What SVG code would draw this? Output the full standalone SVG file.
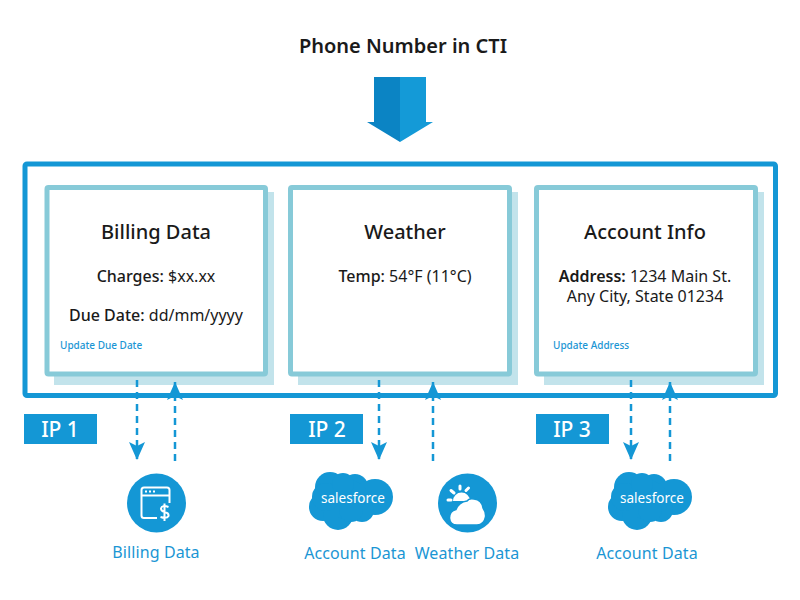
<svg xmlns="http://www.w3.org/2000/svg" width="800" height="600" viewBox="0 0 800 600">
<style>
text{font-family:"Noto Sans","Open Sans","Liberation Sans",sans-serif;fill:#1a1a1a}
.t{font-size:20px;font-weight:600;text-anchor:middle}
.h{font-size:20px;font-weight:500;text-anchor:middle}
.b{font-size:16px;text-anchor:middle}
.m{font-weight:500}
.bb{font-weight:600}
.l{font-size:10px;fill:#1b96d4;font-weight:500}
.c{font-size:16px;fill:#1b96d4;text-anchor:middle;letter-spacing:.1px}
.ip{font-size:21px;fill:#fff;text-anchor:middle;font-weight:500}
.sf{font-size:13.500px;fill:#fff;text-anchor:middle}
.shadow{fill:#c2e3eb}
.card{fill:#fff;stroke:#87cad8;stroke-width:5}
.d{stroke:#1497d5;stroke-width:2.500;stroke-dasharray:7 5;fill:none}
.blue{fill:#1497d5}
.w{fill:none;stroke:#fff;stroke-width:2}
</style>
<defs>
<marker id="ah" markerUnits="userSpaceOnUse" markerWidth="20" markerHeight="18" refX="18" refY="8" orient="auto" viewBox="0 0 20 16"><path d="M18 8 L0 0 L4 8 L0 16Z" fill="#1497d5"/></marker>
<g id="cloud">
<circle cx="21" cy="15" r="15"/><circle cx="46" cy="15" r="13"/><circle cx="66" cy="25" r="18"/><circle cx="14" cy="35" r="14"/><circle cx="29" cy="43" r="15"/><circle cx="53" cy="38" r="12"/><circle cx="40" cy="28" r="20"/><circle cx="17" cy="25" r="14"/><circle cx="42" cy="38" r="12"/><circle cx="34" cy="12" r="11"/>
</g>
</defs>
<text id="title" class="t" x="403" y="53">Phone Number in CTI</text>
<g id="big-arrow">
<path d="M400 77H374V122H367L400 142Z" fill="#0b84c4"/>
<path d="M400 77H426V122H433L400 142Z" fill="#149ad7"/>
</g>
<rect id="outer" x="25" y="164" width="750.500" height="231.500" rx="2" fill="#fff" stroke="#1497d5" stroke-width="5"/>
<g id="billing-card">
<rect class="shadow" x="54" y="192" width="220" height="193"/>
<rect class="card" x="47" y="187.500" width="218.500" height="186.500" rx="1.500"/>
<text class="h" x="156" y="239">Billing Data</text>
<text class="b" x="156" y="282"><tspan class="m">Charges:</tspan> $xx.xx</text>
<text class="b" x="156" y="321"><tspan class="m">Due Date:</tspan> dd/mm/yyyy</text>
<text class="l" x="60" y="349">Update Due Date</text>
</g>
<g id="weather-card">
<rect class="shadow" x="298" y="192" width="220" height="193"/>
<rect class="card" x="290.500" y="187.500" width="219" height="186.500" rx="1.500"/>
<text class="h" x="405" y="239">Weather</text>
<text class="b" x="405" y="282"><tspan class="m">Temp:</tspan> 54°F (11°C)</text>
</g>
<g id="account-card">
<rect class="shadow" x="544" y="192" width="220" height="193"/>
<rect class="card" x="536.500" y="187.500" width="219" height="186.500" rx="1.500"/>
<text class="h" x="645" y="239">Account Info</text>
<text class="b" x="645" y="282"><tspan class="bb">Address:</tspan> 1234 Main St.</text>
<text class="b" x="645" y="302">Any City, State 01234</text>
<text class="l" x="553" y="349">Update Address</text>
</g>
<g id="connectors">
<path class="d" d="M137 380V460" marker-end="url(#ah)"/>
<path class="d" d="M175 461V382" marker-end="url(#ah)"/>
<path class="d" d="M379 380V460" marker-end="url(#ah)"/>
<path class="d" d="M433 461V382" marker-end="url(#ah)"/>
<path class="d" d="M631 380V460" marker-end="url(#ah)"/>
<path class="d" d="M670 461V382" marker-end="url(#ah)"/>
</g>
<g id="ip1"><rect class="blue" x="24" y="414" width="73" height="30"/><text class="ip" x="60" y="437">IP 1</text></g>
<g id="ip2"><rect class="blue" x="290" y="414" width="73" height="30"/><text class="ip" x="327" y="437">IP 2</text></g>
<g id="ip3"><rect class="blue" x="536" y="414" width="73" height="30"/><text class="ip" x="572" y="437">IP 3</text></g>
<g id="billing-source">
<circle class="blue" cx="156.500" cy="503" r="29.500"/>
<path class="w" d="M157 518H144Q141.500 518 141.500 515.500V490Q141.500 487.500 144 487.500H167Q169.500 487.500 169.500 490V503"/>
<path class="w" d="M141.500 495.500H169.500"/>
<path d="M145 491.500H147M149 491.500H151M153 491.500H155" stroke="#fff" stroke-width="2" fill="none"/>
<path class="w" d="M168.500 507Q162 504.500 161 508.500Q161 511 164.500 512Q169 513 168.500 516Q167 519 160.500 517M164.500 503.500V521"/>
<text class="c" x="156" y="558">Billing Data</text>
</g>
<g id="salesforce-1">
<use href="#cloud" class="blue" x="309" y="472"/>
<text class="sf" x="353" y="503">salesforce</text>
<text class="c" x="355" y="559">Account Data</text>
</g>
<g id="weather-source">
<circle class="blue" cx="467.500" cy="503" r="29.500"/>
<path d="M453 501A8.500 8.500 0 0 1 470 501Z" fill="#fff"/>
<path d="M448 500H451M451 490.500L454 493M460 486V489M468.500 488L466 490.500" stroke="#fff" stroke-width="3" stroke-linecap="round" fill="none"/>
<path d="M457 525Q450 525 449.500 518Q449.500 511 456 509.500Q459 502 467 501Q469 498 474 499Q482 500 483 508Q486 512 485.500 517Q484 525 477 525Z" fill="#fff" stroke="#1497d5" stroke-width="1.500"/>
<text class="c" x="467" y="559">Weather Data</text>
</g>
<g id="salesforce-2">
<use href="#cloud" class="blue" x="608" y="472"/>
<text class="sf" x="652" y="503">salesforce</text>
<text class="c" x="647" y="559">Account Data</text>
</g>
</svg>
